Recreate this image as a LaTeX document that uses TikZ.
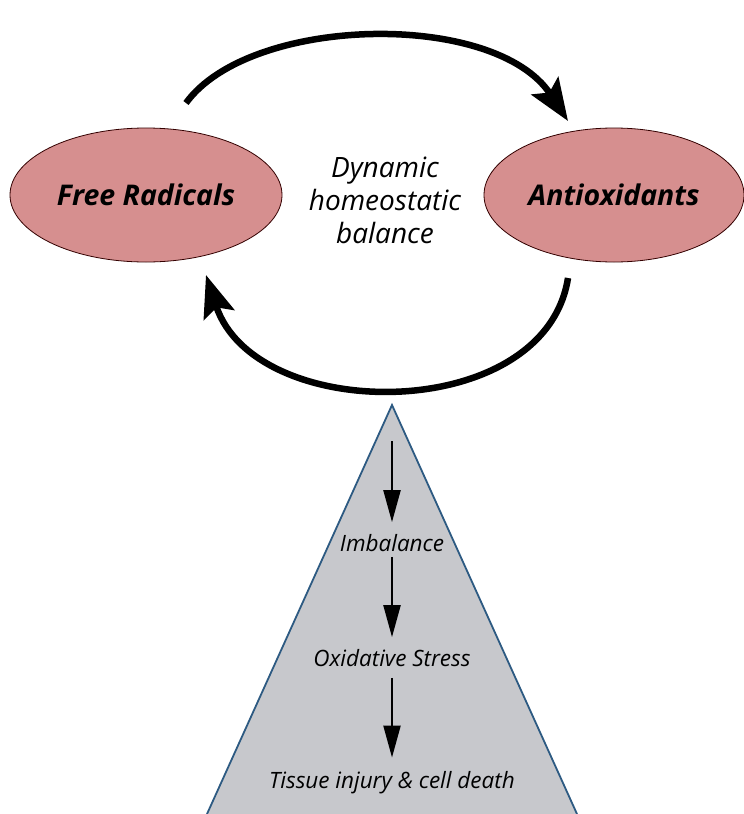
\documentclass[tikz,border=0pt]{standalone}
\usepackage{fontspec}
\setmainfont{Open Sans}
\usetikzlibrary{arrows.meta,shapes.geometric}

\definecolor{radpink}{RGB}{214,143,143}
\definecolor{pyrgray}{RGB}{199,200,204}
\definecolor{pyrblue}{RGB}{45,90,130}

\tikzset{
  blob/.style={ellipse, draw=black!80!red, line width=0.8pt, fill=radpink,
    minimum width=#1, minimum height=134pt, inner sep=0pt,
    font=\fontsize{28.5}{32}\selectfont\bfseries\itshape},
  cycle arrow/.style={line width=6.5pt, -{Stealth[length=42pt,width=32pt,inset=8pt]}},
  stepword/.style={font=\fontsize{22.5}{26}\selectfont\itshape, inner sep=0pt},
  down arrow/.style={line width=2.2pt, -{Triangle[length=32pt,width=17pt]}}
}

\begin{document}
\begin{tikzpicture}[x=1pt,y=-1pt]
\useasboundingbox (0,0) rectangle (744,814);

% the two partners of the balance
\node[blob=272pt] (fr) at (146,195) {Free Radicals};
\node[blob=260pt] (ao) at (614,195) {Antioxidants};
\node[align=center, font=\fontsize{28}{33}\selectfont\itshape] (dyn) at (385,200)
  {Dynamic\\homeostatic\\balance};

\coordinate (topstart) at (186,103);
\coordinate (toptip) at (568,121);
\coordinate (botstart) at (568,278);
\coordinate (bottip) at (206,275);
\draw[cycle arrow] (topstart) .. controls (250,15) and (495,10) .. (toptip);
\draw[cycle arrow] (botstart) .. controls (545,425) and (255,425) .. (bottip);

% pyramid
\coordinate (apex) at (392,405);
\coordinate (baseL) at (207,814);
\coordinate (baseR) at (577,814);
\draw[pyrblue, line width=1.8pt, fill=pyrgray] (baseL) -- (apex) -- (baseR);

\node[stepword] (imb) at (392,543) {Imbalance};
\node[stepword] (oxs) at (392,658) {Oxidative Stress};
\node[stepword] (tis) at (392,783) {Tissue injury \& cell death};

\coordinate (start) at (392,441);
\draw[down arrow, shorten >=12pt] (start) -- (imb.north);
\draw[down arrow, shorten <=5pt, shorten >=12pt] (imb.south) -- (oxs.north);
\draw[down arrow, shorten <=11pt, shorten >=14pt] (oxs.south) -- (tis.north);
\end{tikzpicture}
\end{document}
